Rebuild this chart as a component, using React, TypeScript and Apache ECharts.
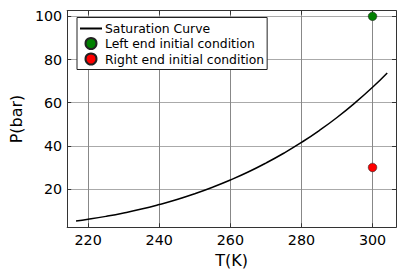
import React, { useEffect, useRef } from "react";
import * as echarts from "echarts";

const temps = [216.59, 220, 225, 230, 235, 240, 245, 250, 255, 260, 265, 270, 275, 280, 285, 290, 295, 300, 304.13];
const pressures = [5.18, 5.99, 7.36, 8.93, 10.73, 12.83, 15.17, 17.85, 20.85, 24.19, 27.89, 32.03, 36.59, 41.6, 47.1, 53.15, 59.83, 67.13, 73.77];
const leftPoint = [300, 100];
const rightPoint = [300, 30];
const xTicks = [220, 240, 260, 280, 300];
const yTicks = [20, 40, 60, 80, 100];

const FONT = "DejaVu Sans";

export default function App() {
  const ref = useRef<HTMLDivElement>(null);
  useEffect(() => {
    const chart = echarts.init(ref.current!, null, { renderer: "svg" });
    const xMin = 214.1, xMax = 306.6, yMin = 2.3, yMax = 102.6;
    const tickCommon = { show: true, inside: true, length: 4, lineStyle: { color: "#333" } };
    chart.setOption({
      animation: false,
      backgroundColor: "#fff",
      textStyle: { fontFamily: FONT },
      grid: { left: 65.3, right: 19, top: 10.7, bottom: 49.7 },
      legend: {
        orient: "vertical",
        left: 77,
        top: 17.5,
        padding: [5, 3, 4, 3],
        itemGap: 2.5,
        itemWidth: 22,
        itemHeight: 11,
        borderColor: "#222",
        borderWidth: 1,
        borderRadius: 0,
        backgroundColor: "#fff",
        textStyle: { fontFamily: FONT, fontSize: 12.4, color: "#000", padding: [0, 0, 0, -2] },
        data: [
          { name: "Saturation Curve", icon: "path://M0,0 L22,0 L22,2 L0,2 Z" },
          { name: "Left end initial condition", icon: "circle", itemStyle: { opacity: 1 } },
          { name: "Right end initial condition", icon: "circle", itemStyle: { opacity: 1 } },
        ],
      },
      xAxis: [
        {
          type: "value",
          min: xMin,
          max: xMax,
          axisLabel: { customValues: xTicks, fontSize: 14.3, color: "#000", margin: 6, fontFamily: FONT },
          axisTick: { ...tickCommon, customValues: xTicks },
          axisLine: { show: true, onZero: false, lineStyle: { color: "#333", width: 1 } },
          splitLine: { show: true, lineStyle: { color: "#888", width: 1 } },
          name: "T(K)",
          nameLocation: "middle",
          nameGap: 21,
          nameTextStyle: { fontSize: 16, color: "#000", fontFamily: FONT },
        },
        {
          type: "value",
          position: "top",
          min: xMin,
          max: xMax,
          axisLabel: { show: false, customValues: xTicks },
          axisTick: { ...tickCommon, customValues: xTicks },
          axisLine: { show: true, onZero: false, lineStyle: { color: "#333", width: 1 } },
          splitLine: { show: false },
        },
      ],
      yAxis: [
        {
          type: "value",
          min: yMin,
          max: yMax,
          axisLabel: { customValues: yTicks, fontSize: 14.3, color: "#000", margin: 5, fontFamily: FONT },
          axisTick: { ...tickCommon, customValues: yTicks },
          axisLine: { show: true, onZero: false, lineStyle: { color: "#333", width: 1 } },
          splitLine: { show: true, lineStyle: { color: "#aaa", width: 1 } },
          name: "P(bar)",
          nameLocation: "middle",
          nameGap: 37,
          nameTextStyle: { fontSize: 16, color: "#000", fontFamily: FONT },
        },
        {
          type: "value",
          position: "right",
          min: yMin,
          max: yMax,
          axisLabel: { show: false, customValues: yTicks },
          axisTick: { ...tickCommon, customValues: yTicks },
          axisLine: { show: true, onZero: false, lineStyle: { color: "#333", width: 1 } },
          splitLine: { show: false },
        },
      ],
      series: [
        {
          name: "Saturation Curve",
          type: "line",
          smooth: true,
          showSymbol: false,
          symbol: "none",
          data: temps.map((t, i) => [t, pressures[i]]),
          lineStyle: { color: "#000", width: 1.5 },
          itemStyle: { color: "#000" },
        },
        {
          name: "Left end initial condition",
          type: "scatter",
          symbolSize: 8.5,
          data: [leftPoint],
          itemStyle: { color: "#008000", borderColor: "#222", borderWidth: 0.6, opacity: 1 },
          z: 5,
        },
        {
          name: "Right end initial condition",
          type: "scatter",
          symbolSize: 8.5,
          data: [rightPoint],
          itemStyle: { color: "#ff0000", borderColor: "#222", borderWidth: 0.6, opacity: 1 },
          z: 5,
        },
      ],
    });
    return () => chart.dispose();
  }, []);
  return <div ref={ref} style={{ width: 415, height: 277, position: "absolute", left: 0, top: 0 }} />;
}
